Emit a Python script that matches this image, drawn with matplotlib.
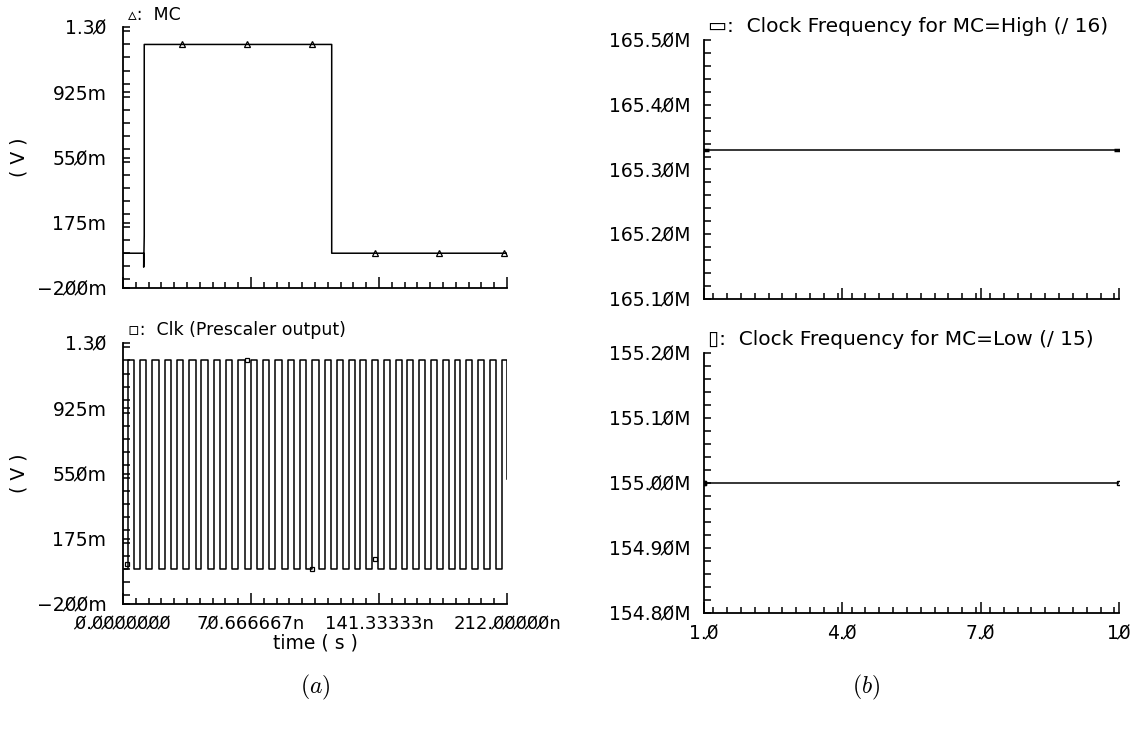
import numpy as np
import matplotlib
matplotlib.use('Agg')
import matplotlib.pyplot as plt
from matplotlib.ticker import MultipleLocator

plt.rcParams['font.family'] = ['DejaVu Sans']
plt.rcParams['mathtext.fontset'] = 'cm'

Z = '0\u0338'  # slashed zero as drawn by the simulator

# --- (a) transient waveforms, time in ns, volts ---
mc_t = [0.0, 11.4, 11.4, 11.7, 11.7, 115.2, 115.2, 212.0]
mc_v = [0.0, 0.0, -0.08, 0.10, 1.2, 1.2, 0.0, 0.0]
mc_mark_t = [32.8, 68.5, 104.2, 139.1, 174.5, 210.3]
mc_mark_v = [1.2, 1.2, 1.2, 0.0, 0.0, 0.0]

clk_rise = [2.5, 9.3, 16.1, 22.9, 29.7, 36.5, 43.3, 50.1, 56.9, 63.7, 70.5,
            77.3, 84.1, 90.9, 97.7, 104.5, 111.3, 118.0, 124.5, 131.0, 137.5,
            144.0, 150.5, 157.0, 163.5, 170.0, 176.5, 183.0, 189.5, 196.0,
            202.5, 209.0]
clk_fall = [6.0, 12.8, 19.6, 26.4, 33.2, 40.0, 46.8, 53.6, 60.4, 67.2, 74.0,
            80.8, 87.6, 94.4, 101.2, 108.0, 114.8, 121.3, 127.8, 134.3, 140.8,
            147.3, 153.8, 160.3, 166.8, 173.3, 179.8, 186.3, 192.8, 199.3,
            205.8, 212.0]
clk_lo = 0.0
clk_hi = 1.2
clk_end = 0.52
clk_mark_t = [2.2, 68.5, 104.2, 139.1]
clk_mark_v = [0.03, 1.2, 0.0, 0.06]

# --- (b) measured clock frequency (MHz) vs run index ---
run_idx = [1, 2, 3, 4, 5, 6, 7, 8, 9, 10]
f_high = [165.33, 165.33, 165.33, 165.33, 165.33, 165.33, 165.33, 165.33, 165.33, 165.33]
f_low = [155.0, 155.0, 155.0, 155.0, 155.0, 155.0, 155.0, 155.0, 155.0, 155.0]

v_ticks = [-0.2, 0.175, 0.55, 0.925, 1.3]
v_labels = ['\u22122' + Z + Z + 'm', '175m', '55' + Z + 'm', '925m', '1.3' + Z]
t_ticks = [0.0, 70.666667, 141.33333, 212.0]
t_labels = [Z + '.' + Z * 7, '7' + Z + '.666667n', '141.33333n', '212.' + Z * 5 + 'n']
fh_ticks = [165.1, 165.2, 165.3, 165.4, 165.5]
fh_labels = ['165.%d%sM' % (d, Z) for d in [1, 2, 3, 4, 5]]
fl_ticks = [154.8, 154.9, 155.0, 155.1, 155.2]
fl_labels = ['154.8' + Z + 'M', '154.9' + Z + 'M', '155.' + Z + Z + 'M', '155.1' + Z + 'M', '155.2' + Z + 'M']
n_ticks = [1, 4, 7, 10]
n_labels = ['1.' + Z, '4.' + Z, '7.' + Z, '1' + Z]

fs = 13.5
fig = plt.figure(figsize=(11.31, 7.31), dpi=100)

def style(ax):
    for s in ['top', 'right']:
        ax.spines[s].set_visible(False)
    for s in ['left', 'bottom']:
        ax.spines[s].set_linewidth(1.3)
    ax.tick_params(which='both', direction='in', width=1.1, labelsize=fs)
    ax.tick_params(axis='y', which='both', length=5, pad=12)
    ax.tick_params(axis='x', which='major', length=8, pad=8)
    ax.tick_params(axis='x', which='minor', length=4)

ax1 = fig.add_axes([0.1088, 0.6060, 0.3395, 0.3570])
ax2 = fig.add_axes([0.1088, 0.1737, 0.3395, 0.3570])
ax3 = fig.add_axes([0.6225, 0.5910, 0.3669, 0.3543])
ax4 = fig.add_axes([0.6225, 0.1614, 0.3669, 0.3557])

# MC
ax1.plot(mc_t, mc_v, color='black', lw=1.1)
ax1.plot(mc_mark_t, mc_mark_v, ls='none', marker='^', ms=4, mfc='none', mec='black', mew=0.9)

# Clk
cx = [0.0]
cy = [clk_lo]
for r, f in zip(clk_rise, clk_fall):
    cx += [r, r, f, f]
    cy += [clk_lo, clk_hi, clk_hi, clk_lo]
cy[-1] = clk_end
ax2.plot(cx, cy, color='black', lw=1.1)
ax2.plot(clk_mark_t, clk_mark_v, ls='none', marker='s', ms=3, mfc='none', mec='black', mew=0.9)

for ax in (ax1, ax2):
    ax.set_xlim(0, 212)
    ax.set_ylim(-0.2, 1.3)
    ax.set_yticks(v_ticks)
    ax.set_yticklabels(v_labels)
    ax.yaxis.set_minor_locator(MultipleLocator(0.075))
    ax.set_xticks(t_ticks)
    ax.xaxis.set_minor_locator(MultipleLocator(212 / 30))
    ax.set_ylabel('( V )', fontsize=fs)
    ax.yaxis.set_label_coords(-0.245, 0.5)
    style(ax)
ax1.set_xticklabels([])
ax2.set_xticklabels(t_labels, fontsize=13)
ax2.set_xlabel('time ( s )', fontsize=fs, labelpad=0)

# frequency plots
ax3.plot(run_idx, f_high, color='black', lw=1.1, marker='_', ms=7, mew=2.5, markevery=[0, 9])
ax4.plot(run_idx, f_low, color='black', lw=1.1, marker='s', ms=3.5, mfc='none', mew=1.0, markevery=[0, 9])
ax4.plot(run_idx[:1], f_low[:1], ls='none', marker='s', ms=3.5, color='black')

ax3.set_ylim(165.1, 165.5)
ax3.set_yticks(fh_ticks)
ax3.set_yticklabels(fh_labels)
ax4.set_ylim(154.8, 155.2)
ax4.set_yticks(fl_ticks)
ax4.set_yticklabels(fl_labels)
for ax in (ax3, ax4):
    ax.set_xlim(1, 10)
    ax.set_xticks(n_ticks)
    ax.xaxis.set_minor_locator(MultipleLocator(0.3))
    ax.yaxis.set_minor_locator(MultipleLocator(0.02))
    style(ax)
    ax.tick_params(axis='y', which='both', pad=10)
ax3.set_xticklabels([])
ax4.set_xticklabels(n_labels)

# trace titles
ax1.text(0.013, 1.046, '\u25b5:  MC', transform=ax1.transAxes, fontsize=12.5, va='center', ha='left')
ax2.text(0.013, 1.05, '\u25ab:  Clk (Prescaler output)', transform=ax2.transAxes, fontsize=12.5, va='center', ha='left')
ax3.text(0.01, 1.054, '\u25ad:  Clock Frequency for MC=High (/ 16)', transform=ax3.transAxes, fontsize=14.5, va='center', ha='left')
ax4.text(0.01, 1.05, '\u25af:  Clock Frequency for MC=Low (/ 15)', transform=ax4.transAxes, fontsize=14.5, va='center', ha='left')

fig.text(315 / 1131, 1 - 687 / 731, r'$(a)$', fontsize=17, ha='center', va='center')
fig.text(866 / 1131, 1 - 687 / 731, r'$(b)$', fontsize=17, ha='center', va='center')

fig.savefig('out.png', dpi=100)
